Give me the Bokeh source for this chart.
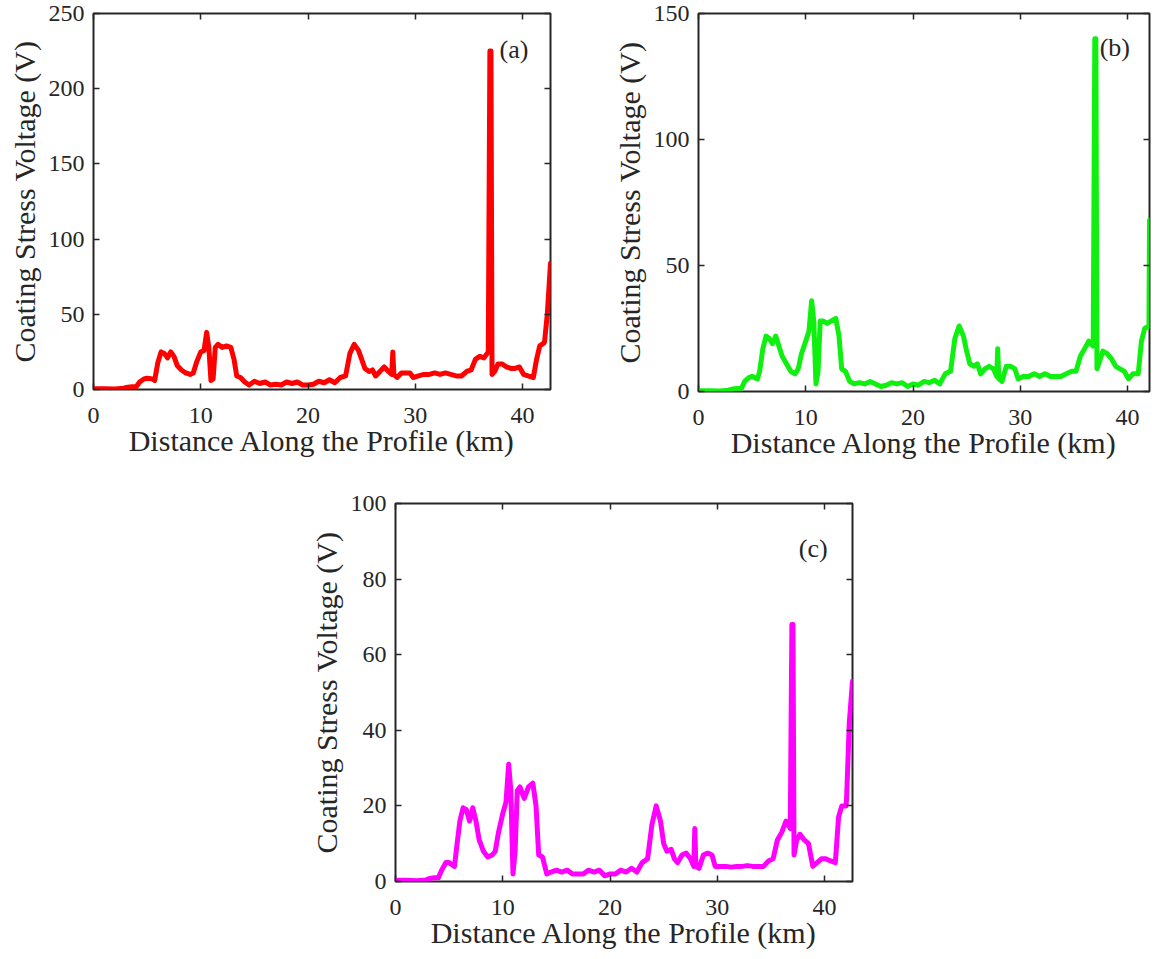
from bokeh.plotting import figure
from bokeh.layouts import row, column, Spacer
from bokeh.models import Range1d, LinearAxis, FixedTicker, Label
from bokeh.embed import file_html
from bokeh.resources import INLINE

# ---------------- data ----------------
distance_km = [0, 1, 2, 2.8, 3.2, 3.6, 4.0, 4.3, 4.7, 5.0, 5.5, 5.7, 6.0, 6.3, 6.6, 6.9,
               7.2, 7.5, 7.8, 8.2, 8.6, 9.0, 9.3, 9.6, 10.0, 10.3, 10.55, 10.75, 10.95,
               11.15, 11.35, 11.6, 12.0, 12.4, 12.8, 13.1, 13.35, 13.7, 14.1, 14.5, 15.0,
               15.5, 16.0, 16.5, 17.0, 17.5, 18.0, 18.5, 19.0, 19.5, 20.0, 20.5, 21.0,
               21.5, 22.0, 22.5, 23.0, 23.5, 23.9, 24.3, 24.7, 25.0, 25.3, 25.7, 26.0,
               26.3, 26.7, 27.1, 27.5, 27.8, 27.9, 28.0, 28.3, 28.7, 29.1, 29.5, 29.8,
               30.3, 30.8, 31.3, 31.8, 32.3, 32.8, 33.3, 33.8, 34.3, 34.8, 35.2, 35.6,
               36.0, 36.4, 36.8, 36.95, 37.05, 37.15, 37.4, 37.7, 38.1, 38.5, 38.9, 39.3,
               39.7, 40.1, 40.5, 41.0, 41.3, 41.6, 42.0, 42.05, 42.3, 42.6]

voltage_a = [0.5, 0.5, 0.3, 0.8, 1.5, 1.8, 2, 5, 7, 7.5, 7, 6, 18, 25, 24, 21,
             25, 22, 16, 13, 11, 10, 11, 18, 25, 26, 38, 28, 6,
             7, 28, 30, 28, 29, 28, 20, 9, 8, 5, 3, 5.5,
             4, 5, 3, 3.5, 3, 5, 4, 5, 3, 3, 3.5, 5.5,
             4.5, 6.5, 4.5, 8, 9, 24, 30, 26, 20, 14, 12, 13,
             9, 12, 15, 12, 10, 25, 10, 8, 11, 11, 11, 8,
             9, 10, 10, 11, 10, 11, 10, 9, 9, 12, 13, 20,
             22, 21, 25, 225, 225, 10, 12, 17, 17, 15, 14, 14,
             15, 10, 9, 8, 20, 29, 31, 32, 50, 84]

nan = float("nan")
voltage_b = [0.3, 0.3, 0.2, 0.5, 1, 1.2, 1.2, 4, 5.5, 6, 5, 8, 17, 22, 21, 19,
             22, 18, 14, 11, 8, 7, 9, 15, 20, 24, 36, 28, 3,
             8, 28, 28, 27, 28, 29, 22, 9, 8, 4, 3, 3.5,
             3, 4, 3, 2, 2.5, 3.5, 3, 3.5, 2, 3, 2.5, 4,
             3.5, 4.5, 3, 7, 8, 21, 26, 22, 16, 11, 10, 11,
             7, 9, 10, 9, 6, 17, 5, 4, 10, 10, 9, 5,
             6, 6, 7, 6, 7, 6, 6, 6, 7, 8, 8, 14,
             17, 20, 18, 140, 140, 9, 12, 16, 15, 13, 10, 9,
             8, 5, 7, 7, 20, 25, 26, 68, nan, nan]

voltage_c = [0.3, 0.3, 0.2, 0.4, 0.8, 1, 1, 3, 5, 5, 4, 9, 16, 19.5, 19, 16,
             19.5, 16, 11, 8, 6.5, 7, 8, 13, 18, 21, 31, 24, 2,
             8, 24, 25, 22, 25, 26, 20, 7, 6.5, 2, 2.5, 3,
             2.5, 3, 2, 2, 2, 3, 2.5, 3, 1.5, 2, 2, 3,
             2.5, 3.5, 2.5, 5, 6, 15, 20, 16, 10, 8, 8.5, 6,
             5, 7, 7.5, 6, 4, 14, 4, 3.5, 7, 7.5, 7, 4,
             4, 4, 3.8, 4, 4, 4.2, 4, 4, 4, 5.5, 6, 11,
             13, 16, 14, 68, 68, 7, 11, 12.5, 11, 10, 4, 5,
             6, 6, 5.5, 5, 17, 20, 20, 22, 42, 53]

x_ticks = [0, 10, 20, 30, 40]
y_ticks_a = [0, 50, 100, 150, 200, 250]
y_ticks_b = [0, 50, 100, 150]
y_ticks_c = [0, 20, 40, 60, 80, 100]
panel_tags = ["(a)", "(b)", "(c)"]
x_label = "Distance Along the Profile (km)"
y_label = "Coating Stress Voltage (V)"

# ---------------- styling ----------------
FONT = "Liberation Serif"
INK = "#262626"


def make_panel(values, color, x_max, y_max, y_ticks, tag, tag_x, tag_y,
               fw, fh, left, right, top, bottom):
    p = figure(frame_width=fw, frame_height=fh,
               x_range=Range1d(0, x_max), y_range=Range1d(0, y_max),
               output_backend="svg", toolbar_location=None,
               min_border_left=left, min_border_right=right,
               min_border_top=top, min_border_bottom=bottom)
    p.grid.visible = False
    p.background_fill_color = "white"
    p.border_fill_color = "white"
    p.outline_line_color = INK
    p.outline_line_width = 2

    p.xaxis.ticker = FixedTicker(ticks=x_ticks)
    p.yaxis.ticker = FixedTicker(ticks=y_ticks)
    p.xaxis.axis_label = x_label
    p.yaxis.axis_label = y_label

    for ax in list(p.xaxis) + list(p.yaxis):
        ax.axis_line_color = None
        ax.major_tick_in = 6
        ax.major_tick_out = 0
        ax.major_tick_line_color = INK
        ax.major_tick_line_width = 1.5
        ax.minor_tick_line_color = None
        ax.major_label_text_font = FONT
        ax.major_label_text_font_size = "24px"
        ax.major_label_text_color = INK
        ax.axis_label_text_font = FONT
        ax.axis_label_text_font_size = "30px"
        ax.axis_label_text_font_style = "normal"
        ax.axis_label_text_color = INK
    p.xaxis.major_label_standoff = 18
    p.xaxis.axis_label_standoff = -2
    p.yaxis.major_label_standoff = 9
    p.yaxis.axis_label_standoff = 5

    # mirrored ticks on top and right (box on), no labels there
    for loc, tk in (("right", y_ticks), ("above", x_ticks)):
        ax = LinearAxis(ticker=FixedTicker(ticks=tk))
        ax.axis_line_color = None
        ax.major_tick_in = 6
        ax.major_tick_out = 0
        ax.major_tick_line_color = INK
        ax.major_tick_line_width = 1.5
        ax.minor_tick_line_color = None
        ax.major_label_overrides = {t: "" for t in tk}
        ax.major_label_text_font_size = "1px"
        ax.major_label_text_color = None
        ax.major_label_standoff = 0
        p.add_layout(ax, loc)

    p.line(distance_km, values, line_color=color, line_width=5,
           line_join="round", line_cap="round")

    p.add_layout(Label(x=tag_x, y=tag_y, text=tag, text_font=FONT,
                       text_font_size="26px", text_color=INK,
                       text_align="left", text_baseline="middle"))
    return p


pa = make_panel(voltage_a, "#FF0000", 42.6, 250, y_ticks_a, panel_tags[0], 37.85, 226,
                457, 376, 93, 20, 13, 80)
pb = make_panel(voltage_b, "#10F010", 42.05, 150, y_ticks_b, panel_tags[1], 37.4, 136.5,
                451, 378, 128, 6, 13, 80)
pc = make_panel(voltage_c, "#FF00FF", 42.6, 100, y_ticks_c, panel_tags[2], 37.6, 88,
                457, 378, 93, 20, 32, 70)

layout = column(row(pa, pb), row(Spacer(width=302, height=10), pc))

open("out.html", "w").write(file_html(layout, INLINE))
